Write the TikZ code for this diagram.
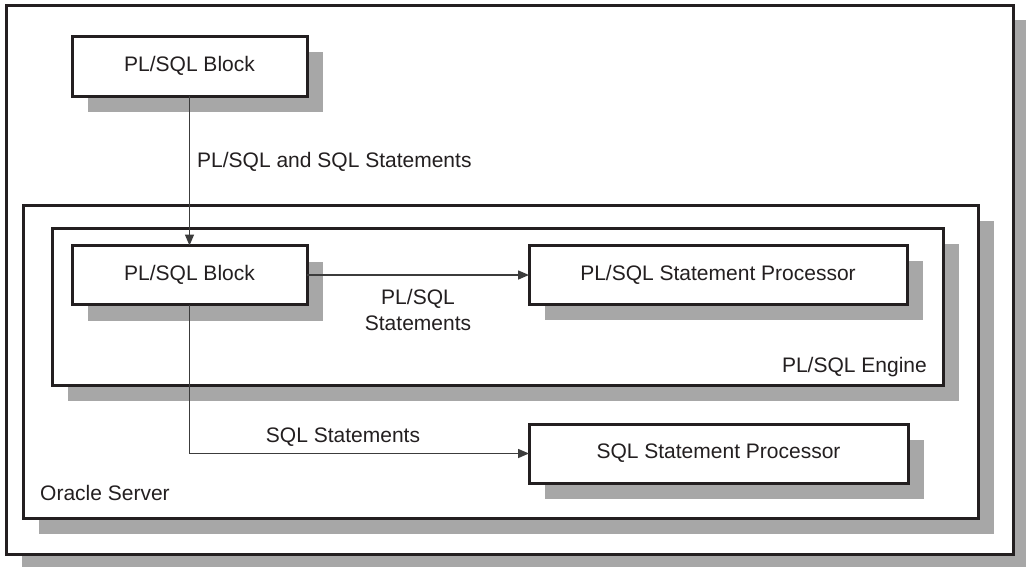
\documentclass[tikz,border=0pt]{standalone}
\usepackage{fontspec}
\setmainfont{Liberation Sans}
\usetikzlibrary{arrows.meta,shadows}
\definecolor{ink}{HTML}{231F20}
\definecolor{shade}{HTML}{A7A7A7}
\definecolor{wirec}{HTML}{3C3C3C}
\begin{document}
\begin{tikzpicture}[x=1pt,y=-1pt,
  box/.style={draw=ink, line width=3pt, fill=white, inner sep=0pt, outer sep=0pt,
    font=\fontsize{21}{26}\selectfont, text=ink,
    drop shadow={shadow xshift=16pt, shadow yshift=-16pt, fill=shade, opacity=1}},
  wire/.style={draw=wirec, line width=1.5pt, -{Triangle[length=11pt,width=9pt]}},
  lbl/.style={font=\fontsize{21}{26}\selectfont, text=ink, inner sep=0pt}]
\useasboundingbox (0,0) rectangle (1026,566);
\fill[white] (0,0) rectangle (1026,566);
% containers
\node[box, minimum width=1007pt, minimum height=549pt,
  drop shadow={shadow xshift=16pt, shadow yshift=-15pt, fill=shade, opacity=1}] (frame) at (509.5,279.5) {};
\node[box, minimum width=235pt, minimum height=60pt] (blk1) at (189.5,66) {PL/SQL Block};
\node[box, minimum width=955pt, minimum height=313pt] (oracle) at (500.5,361.5) {};
\node[box, minimum width=891pt, minimum height=157pt] (engine) at (497.5,306.5) {};
% inner boxes
\node[box, minimum width=235pt, minimum height=59pt] (blk2) at (189.5,275) {PL/SQL Block};
\node[box, minimum width=378pt, minimum height=59pt] (plproc) at (718,274.5) {PL/SQL Statement Processor};
\node[box, minimum width=379pt, minimum height=59pt] (sqlproc) at (718.5,453.5) {SQL Statement Processor};
% connectors
\draw[wire] (blk1.south) -- (blk2.north);
\draw[wire] (blk2.east) -- (blk2.east -| plproc.west);
\draw[wire] (blk2.south) |- (sqlproc.west);
% labels
\node[lbl, anchor=base west] (l1) at (197,167.5) {PL/SQL and SQL Statements};
\node[lbl, anchor=base] (l2a) at (418,304.5) {PL/SQL};
\node[lbl, anchor=base] (l2b) at (418,330.5) {Statements};
\node[lbl, anchor=base] (l3) at (343,442) {SQL Statements};
\node[lbl, anchor=base east] (l4) at (927,372.5) {PL/SQL Engine};
\node[lbl, anchor=base west] (l5) at (40,500) {Oracle Server};
\end{tikzpicture}
\end{document}
